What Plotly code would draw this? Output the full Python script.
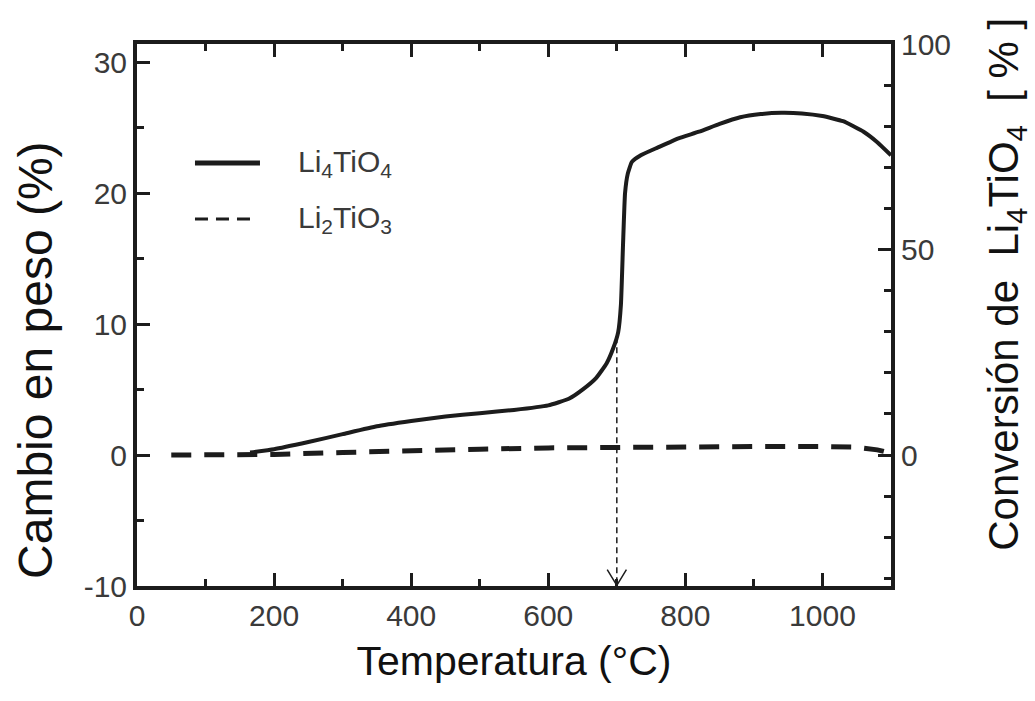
import plotly.graph_objects as go

# ---- data ----
temp_li4 = [165, 200, 250, 300, 350, 400, 450, 500, 550, 600, 630, 650, 670, 685, 695,
            702, 706, 709, 712, 716, 722, 735, 760, 790, 820, 850, 880, 910, 940, 970,
            1000, 1030, 1060, 1080, 1100]
peso_li4 = [0.2, 0.45, 1.0, 1.6, 2.2, 2.6, 2.95, 3.2, 3.45, 3.8, 4.3, 5.0, 5.9, 7.0, 8.2,
            9.4, 11.5, 16.0, 20.0, 21.5, 22.4, 22.9, 23.5, 24.2, 24.7, 25.3, 25.8, 26.05, 26.15, 26.1,
            25.9, 25.5, 24.7, 23.9, 22.9]

temp_li2 = [50, 100, 150, 200, 300, 400, 500, 600, 700, 800, 900, 1000, 1050, 1080, 1100]
peso_li2 = [0.0, 0.0, 0.0, 0.05, 0.2, 0.35, 0.45, 0.55, 0.6, 0.63, 0.65, 0.65, 0.6, 0.4, 0.15]

x_ticks = [0, 200, 400, 600, 800, 1000]
y_ticks = [-10, 0, 10, 20, 30]
y_tick_labels = ["-10", "0", "10", "20", "30"]
y2_ticks = [0, 50, 100]

arrow_x = 700
arrow_top = 9.0

x_range = [0, 1100]
y_range = [-10, 31.4]
y2_range = [-31.84, 100]

FONT = "Liberation Sans, Arial, sans-serif"
INK = "#1c1c1c"
TXT = "#3a3a3a"

fig = go.Figure()

fig.add_trace(go.Scatter(x=temp_li2, y=peso_li2, mode="lines", name="Li2TiO3",
                         line=dict(color=INK, width=5, dash="20px,13px"), showlegend=False))
fig.add_trace(go.Scatter(x=temp_li4, y=peso_li4, mode="lines", name="Li4TiO4",
                         line=dict(color=INK, width=4, shape="spline", smoothing=0.4),
                         showlegend=False))

# arrowhead (open V) at the bottom of the guide line
head_dx = 14
head_dy = 1.25
fig.add_trace(go.Scatter(x=[arrow_x - head_dx, arrow_x, arrow_x + head_dx],
                         y=[y_range[0] + head_dy, y_range[0] + 0.05, y_range[0] + head_dy],
                         mode="lines", line=dict(color=INK, width=1.5),
                         showlegend=False, hoverinfo="skip", cliponaxis=False))

# dummy trace to activate y2
fig.add_trace(go.Scatter(x=[None], y=[None], yaxis="y2", showlegend=False, hoverinfo="skip"))

shapes = [
    dict(type="line", xref="x", yref="y", x0=arrow_x, x1=arrow_x, y0=arrow_top, y1=y_range[0] + 0.1,
         line=dict(color=INK, width=1.5, dash="6px,4px")),
    # legend samples
    dict(type="line", xref="paper", yref="paper", x0=0.0769, x1=0.1631, y0=0.7804, y1=0.7804,
         line=dict(color=INK, width=5)),
    dict(type="line", xref="paper", yref="paper", x0=0.0769, x1=0.1580, y0=0.6771, y1=0.6771,
         line=dict(color=INK, width=3, dash="13px,8px")),
]

annotations = [
    dict(text="Li<sub>4</sub>TiO<sub>4</sub>", xref="paper", yref="paper", x=0.2105, y=0.7804,
         xanchor="left", yanchor="middle", showarrow=False, font=dict(family=FONT, size=30, color=TXT)),
    dict(text="Li<sub>2</sub>TiO<sub>3</sub>", xref="paper", yref="paper", x=0.2105, y=0.6771,
         xanchor="left", yanchor="middle", showarrow=False, font=dict(family=FONT, size=30, color=TXT)),
    dict(text="Cambio en peso (%)", xref="paper", yref="paper",
         x=-0.1340, y=0.417, xanchor="center", yanchor="middle", textangle=-90, showarrow=False,
         font=dict(family=FONT, size=48, color="#111")),
    dict(text="Conversión de  Li<sub>4</sub>TiO<sub>4</sub>  [ % ]", xref="paper", yref="paper",
         x=1.154, y=0.556, xanchor="center", yanchor="middle", textangle=-90, showarrow=False,
         font=dict(family=FONT, size=42, color="#111")),
]

fig.update_layout(
    width=1035, height=701,
    margin=dict(l=137, r=144, t=44, b=115),
    paper_bgcolor="white", plot_bgcolor="white",
    font=dict(family=FONT, color=TXT),
    shapes=shapes, annotations=annotations,
    xaxis=dict(range=x_range, tickvals=x_ticks, ticks="inside", ticklen=13, tickwidth=3,
               tickcolor=INK, showline=True, linewidth=4, linecolor=INK, mirror="ticks",
               showgrid=False, zeroline=False, tickfont=dict(size=30, color=TXT),
               minor=dict(ticks="inside", ticklen=7, tickwidth=3, dtick=100, tickcolor=INK, showgrid=False),
               title=dict(text="Temperatura (°C)", font=dict(size=41, color="#111"), standoff=16)),
    yaxis=dict(range=y_range, tickvals=y_ticks, ticktext=y_tick_labels, ticks="inside", ticklen=13,
               tickwidth=3, tickcolor=INK, showline=True, linewidth=4, linecolor=INK,
               showgrid=False, zeroline=False, tickfont=dict(size=30, color=TXT),
               minor=dict(ticks="inside", ticklen=7, tickwidth=3, dtick=5, tickcolor=INK, showgrid=False)),
    yaxis2=dict(range=y2_range, tickvals=y2_ticks, overlaying="y", side="right", ticks="inside",
                ticklen=13, tickwidth=3, tickcolor=INK, showline=True, linewidth=4, linecolor=INK,
                showgrid=False, zeroline=False, tickfont=dict(size=30, color=TXT),
                minor=dict(ticks="inside", ticklen=7, tickwidth=3, dtick=10, tickcolor=INK, showgrid=False)),
)

fig.write_html("out.html")
